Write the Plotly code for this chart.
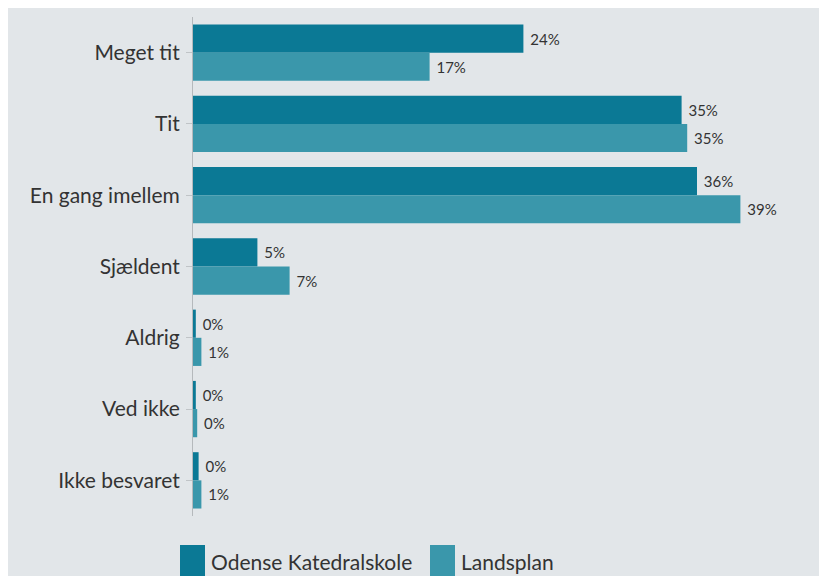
import plotly.graph_objects as go

categories = ["Meget tit", "Tit", "En gang imellem", "Sjældent", "Aldrig", "Ved ikke", "Ikke besvaret"]
odense = [23.6, 34.9, 36.0, 4.6, 0.2, 0.2, 0.4]
landsplan = [16.9, 35.3, 39.1, 6.9, 0.6, 0.3, 0.6]
series_names = ["Odense Katedralskole", "Landsplan"]
colors = ["#0b7995", "#3a97ab"]

# the page puts the figure 8px in from the top-left corner
W, H = 819, 568
L, R, T, B = 185, 8, 9, 60
pw, ph = W - L - R, H - T - B


def px_x(p):
    return (p - L) / pw


def px_y(p):
    return (H - B - p) / ph


fig = go.Figure()
for name, vals, col in zip(series_names, [odense, landsplan], colors):
    fig.add_trace(
        go.Bar(
            y=categories,
            x=vals,
            name=name,
            orientation="h",
            marker=dict(color=col, line=dict(width=0)),
            texttemplate=" %{x:.0f}%",
            textposition="outside",
            textfont=dict(size=15, color="#333333"),
            cliponaxis=False,
            showlegend=False,
        )
    )

# hand-drawn legend with big swatches
legend_x = [172, 422]
for name, col, lx in zip(series_names, colors, legend_x):
    fig.add_shape(
        type="rect", xref="paper", yref="paper",
        x0=px_x(lx), x1=px_x(lx + 25), y0=px_y(568), y1=px_y(537),
        fillcolor=col, line=dict(width=0),
    )
    fig.add_annotation(
        xref="paper", yref="paper", x=px_x(lx + 29), y=px_y(553),
        text=name, showarrow=False, xanchor="left", yanchor="middle",
        font=dict(size=21, color="#333333"),
    )

fig.update_layout(
    width=W,
    height=H,
    barmode="group",
    bargap=0.21,
    bargroupgap=0,
    paper_bgcolor="#e2e6e9",
    plot_bgcolor="#e2e6e9",
    margin=dict(l=L, r=R, t=T, b=B),
    font=dict(family="Lato, Open Sans, sans-serif", color="#333333"),
    showlegend=False,
)
fig.update_xaxes(range=[0, pw / 14.0], visible=False, showgrid=False, zeroline=False)
fig.update_yaxes(
    categoryorder="array",
    categoryarray=categories,
    autorange="reversed",
    showline=True,
    linecolor="#b5b9bc",
    linewidth=1,
    ticks="outside",
    ticklen=6,
    tickcolor="#c0c4c7",
    tickfont=dict(size=21, color="#333333"),
    ticklabelstandoff=2,
    showgrid=False,
)

fig.write_html("out.html")
